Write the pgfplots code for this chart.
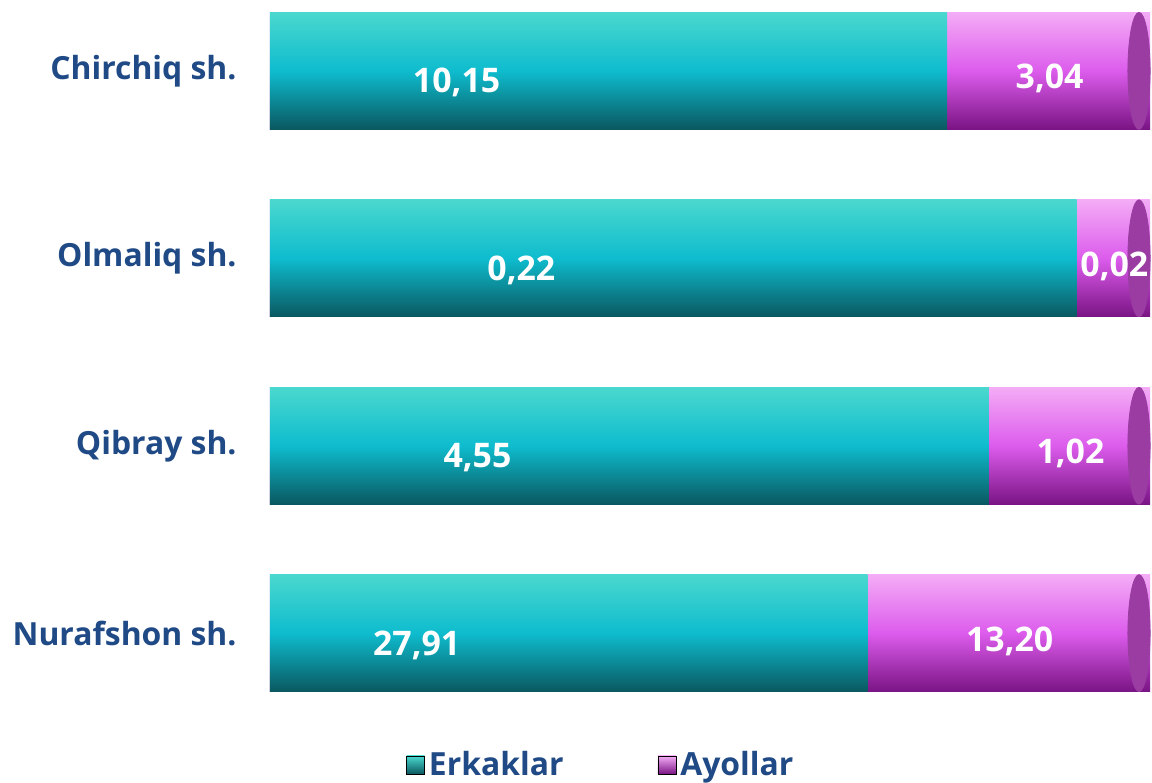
\documentclass[border=0pt]{standalone}
\usepackage{fontspec}
\setmainfont{Open Sans}
\usepackage{pgfplots}
\usepackage{pgfplotstable}
\pgfplotsset{compat=1.18}

\definecolor{labblue}{HTML}{1F4A86}
\definecolor{tealtop}{HTML}{4AD8CE}
\definecolor{tealmid}{HTML}{0EBCCE}
\definecolor{tealbot}{HTML}{0A5860}
\definecolor{pinktop}{HTML}{F4ACF6}
\definecolor{pinkmid}{HTML}{DC5CEC}
\definecolor{pinkbot}{HTML}{7A1484}
\definecolor{pinkcap}{HTML}{9A3CA2}

% raw values and their shares of the row total (%)
\pgfplotstableread{
y men   women mp    wp
0 10.15 3.04  76.95 23.05
1 0.22  0.02  91.67 8.33
2 4.55  1.02  81.69 18.31
3 27.91 13.20 67.89 32.11
}\data

\begin{document}
\begin{tikzpicture}
\begin{axis}[
  xbar,
  bar width=58.5bp,
  bar shift=0pt,
  scale only axis,
  width=440bp, height=343bp,
  xmin=0, xmax=100,
  ymin=-0.33, ymax=3.33,
  y dir=reverse,
  clip=false,
  axis line style={draw=none},
  major tick length=0pt,
  xtick=\empty,
  ytick={0,1,2,3},
  yticklabels={Chirchiq sh., Olmaliq sh., Qibray sh., Nurafshon sh.},
  yticklabel style={font=\bfseries\fontsize{16}{19}\selectfont, text=labblue,
                    inner sep=0pt, xshift=-16.5bp},
  point meta=explicit,
  nodes near coords={\pgfmathprintnumber[fixed,zerofill,precision=2,use comma,assume math mode=true]{\pgfplotspointmeta}},
  legend style={at={(0.377,-0.102)}, anchor=center, draw=none, fill=none,
                legend columns=2, font=\bfseries\fontsize{16}{19}\selectfont,
                text=labblue, inner sep=0pt,
                /tikz/every even column/.append style={column sep=45bp}},
]
\pgfplotsinvokeforeach{0,1,2,3}{
  % women: bar runs to the row total, men drawn over it
  \addplot[forget plot, draw=none, top color=pinktop, bottom color=pinkbot, middle color=pinkmid,
    restrict y to domain=#1:#1, nodes near coords=]
    table[x expr=\thisrow{mp}+\thisrow{wp}, y=y, meta=women]{\data};
  % end face of the cylinder, carrying the women's label
  \addplot[forget plot, only marks, mark=*, mark size=29.25bp,
    mark options={xshift=-5.5bp, xscale=0.19, draw=pinkcap, fill=pinkcap},
    restrict y to domain=#1:#1,
    visualization depends on={\thisrow{wp} \as \segw},
    nodes near coords style={font=\bfseries\fontsize{17}{20}\selectfont, text=white, anchor=center,
      xshift={-2.2bp*\segw+6bp}, yshift=-4bp}]
    table[x expr=\thisrow{mp}+\thisrow{wp}, y=y, meta=women]{\data};
  \addplot[forget plot, draw=none, top color=tealtop, bottom color=tealbot, middle color=tealmid,
    restrict y to domain=#1:#1,
    visualization depends on={\thisrow{mp} \as \segw},
    nodes near coords style={font=\bfseries\fontsize{17}{20}\selectfont, text=white, anchor=center,
      xshift={-2.2bp*\segw-76bp}, yshift=-6bp}]
    table[x=mp, y=y, meta=men]{\data};
}
\addlegendimage{legend image code/.code={\shade[bottom color=tealbot, top color=tealtop] (0bp,-4.5bp) rectangle (9bp,4.5bp);}}
\addlegendentry{Erkaklar}
\addlegendimage{legend image code/.code={\shade[bottom color=pinkbot, top color=pinktop] (0bp,-4.5bp) rectangle (9bp,4.5bp);}}
\addlegendentry{Ayollar}
\end{axis}
\pgfresetboundingbox
\path ([shift={(-135bp,-44bp)}]current axis.south west) rectangle ([shift={(1bp,4.5bp)}]current axis.north east);
\end{tikzpicture}
\end{document}
